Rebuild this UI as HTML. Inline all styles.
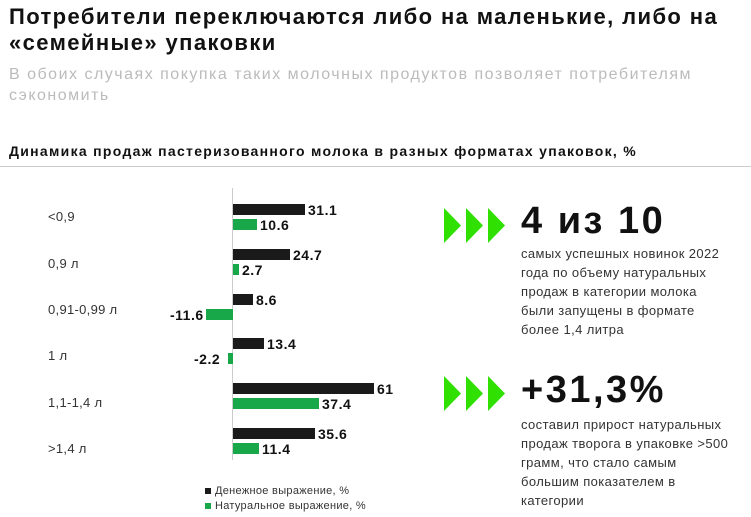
<!DOCTYPE html><html><head><meta charset="utf-8"><style>
body{margin:0;width:751px;height:517px;background:#fff;font-family:"Liberation Sans",sans-serif;position:relative;overflow:hidden;color:#111}
div{position:absolute;white-space:nowrap}
.h{left:9px;font-size:22px;font-weight:bold;line-height:26px;letter-spacing:1.4px}
.s{left:9px;font-size:16px;color:#bbb;line-height:21px;letter-spacing:1.5px}
.lab{left:48px;font-size:13px;color:#333;letter-spacing:0.3px}
.b{height:11px;left:233px}
.k{background:#1a1a1a}.g{background:#18a84a}
.v{font-size:14px;font-weight:bold;letter-spacing:0.5px}
.t{font-size:13px;line-height:19px;color:#333;left:521px;letter-spacing:0.4px}
.big{left:521px;font-size:38px;font-weight:900;letter-spacing:2.5px}
</style></head><body>
<div class="h" style="top:4px">Потребители переключаются либо на маленькие, либо на<br>«семейные» упаковки</div>
<div class="s" style="top:64px">В обоих случаях покупка таких молочных продуктов позволяет потребителям<br>сэкономить</div>
<div style="left:9px;top:143px;font-size:14px;font-weight:bold;letter-spacing:1.3px">Динамика продаж пастеризованного молока в разных форматах упаковок, %</div>
<div style="left:0;top:166px;width:751px;height:1px;background:#ccc"></div>
<div style="left:232px;top:188px;width:1px;height:272px;background:#ccc"></div>
<div class="lab" style="top:209px">&lt;0,9</div>
<div class="lab" style="top:256px">0,9 л</div>
<div class="lab" style="top:302px">0,91-0,99 л</div>
<div class="lab" style="top:348px">1 л</div>
<div class="lab" style="top:395px">1,1-1,4 л</div>
<div class="lab" style="top:441px">&gt;1,4 л</div>

<div class="b k" style="top:204px;width:72px"></div><div class="v" style="left:308px;top:202px">31.1</div>
<div class="b g" style="top:219px;width:24px"></div><div class="v" style="left:260px;top:217px">10.6</div>
<div class="b k" style="top:249px;width:57px"></div><div class="v" style="left:293px;top:247px">24.7</div>
<div class="b g" style="top:264px;width:6px"></div><div class="v" style="left:242px;top:262px">2.7</div>
<div class="b k" style="top:294px;width:20px"></div><div class="v" style="left:256px;top:292px">8.6</div>
<div class="b g" style="top:309px;left:206px;width:27px"></div><div class="v" style="left:170px;top:307px">-11.6</div>
<div class="b k" style="top:338px;width:31px"></div><div class="v" style="left:267px;top:336px">13.4</div>
<div class="b g" style="top:353px;left:228px;width:5px"></div><div class="v" style="left:194px;top:351px">-2.2</div>
<div class="b k" style="top:383px;width:141px"></div><div class="v" style="left:377px;top:381px">61</div>
<div class="b g" style="top:398px;width:86px"></div><div class="v" style="left:322px;top:396px">37.4</div>
<div class="b k" style="top:428px;width:82px"></div><div class="v" style="left:318px;top:426px">35.6</div>
<div class="b g" style="top:443px;width:26px"></div><div class="v" style="left:262px;top:441px">11.4</div>

<div style="left:205px;top:484px;font-size:11px;color:#333;line-height:15px;letter-spacing:0.3px"><span style="display:inline-block;width:6px;height:6px;background:#1a1a1a;margin-right:4px"></span>Денежное выражение, %<br><span style="display:inline-block;width:6px;height:6px;background:#18a84a;margin-right:4px"></span>Натуральное выражение, %</div>

<svg style="position:absolute;left:444px;top:208px" width="62" height="35"><g fill="#2fe000"><polygon points="0,0 17,17.5 0,35"/><polygon points="22,0 39,17.5 22,35"/><polygon points="44,0 61,17.5 44,35"/></g></svg>
<div class="big" style="top:200px">4 из 10</div>
<div class="t" style="top:244px">самых успешных новинок 2022<br>года по объему натуральных<br>продаж в категории молока<br>были запущены в формате<br>более 1,4 литра</div>

<svg style="position:absolute;left:444px;top:376px" width="62" height="35"><g fill="#2fe000"><polygon points="0,0 17,17.5 0,35"/><polygon points="22,0 39,17.5 22,35"/><polygon points="44,0 61,17.5 44,35"/></g></svg>
<div class="big" style="top:369px">+31,3%</div>
<div class="t" style="top:415px">составил прирост натуральных<br>продаж творога в упаковке &gt;500<br>грамм, что стало самым<br>большим показателем в<br>категории</div>
</body></html>
